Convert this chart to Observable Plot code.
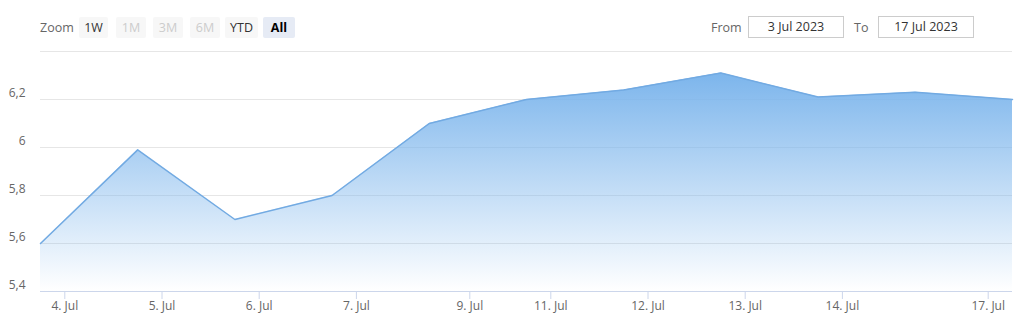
<!DOCTYPE html>
<html>
<head>
<meta charset="utf-8">
<script src="https://cdn.jsdelivr.net/npm/d3@7"></script>
<script src="https://cdn.jsdelivr.net/npm/@observablehq/plot@0.6"></script>
<style>
  html, body { margin: 0; padding: 0; background: #fff; }
  #wrap { width: 1026px; font-family: "Open Sans", "Noto Sans", sans-serif; }
  #header { position: relative; height: 50px; }
  .lbl { position: absolute; top: 18px; font-size: 12.5px; color: #666; line-height: 20px; }
  .btn { position: absolute; top: 17px; height: 21px; line-height: 21px; text-align: center;
         font-size: 12.5px; color: #333; background: #f7f7f7; border-radius: 2px; }
  .btn.dis { color: #ccc; }
  .btn.sel { background: #e6ebf5; font-weight: bold; color: #000; }
  .box { position: absolute; top: 16px; height: 20px; line-height: 20px; text-align: center;
         font-size: 12.5px; color: #333; border: 1px solid #ccc; background: #fff; }
</style>
</head>
<body>
<div id="wrap">
  <div id="header"></div>
  <div id="chart"></div>
</div>
<script>
// ---- data ----
const dates = ["2023-07-03","2023-07-04","2023-07-05","2023-07-06","2023-07-07",
               "2023-07-10","2023-07-11","2023-07-12","2023-07-13","2023-07-14","2023-07-17"];
const values = [5.6, 5.99, 5.7, 5.8, 6.1, 6.2, 6.24, 6.31, 6.21, 6.23, 6.2];
const tickDates = ["2023-07-04","2023-07-05","2023-07-06","2023-07-07","2023-07-09",
                   "2023-07-11","2023-07-12","2023-07-13","2023-07-14","2023-07-17"];
const tickLabels = ["4. Jul","5. Jul","6. Jul","7. Jul","9. Jul",
                    "11. Jul","12. Jul","13. Jul","14. Jul","17. Jul"];
const yTicks = [5.4, 5.6, 5.8, 6, 6.2];
const yGrid = [5.6, 5.8, 6, 6.2, 6.4];
const zoomButtons = ["1W","1M","3M","6M","YTD","All"];
const disabledButtons = ["1M","3M","6M"];
const selectedButton = "All";
const fromDate = "3 Jul 2023";
const toDate = "17 Jul 2023";

// ---- header (range selector) ----
const header = document.getElementById("header");
function add(cls, text, left, width) {
  const d = document.createElement("div");
  d.className = cls; d.textContent = text; d.style.left = left + "px";
  if (width) d.style.width = width + "px";
  header.appendChild(d); return d;
}
add("lbl", "Zoom", 40);
const btnPos = [[79,29],[116,30],[153,30],[190,30],[225,33],[263,32]];
zoomButtons.forEach((b, i) => {
  let cls = "btn";
  if (disabledButtons.includes(b)) cls += " dis";
  if (b === selectedButton) cls += " sel";
  add(cls, b, btnPos[i][0], btnPos[i][1]);
});
add("lbl", "From", 711);
add("box", fromDate, 748, 94);
add("lbl", "To", 854);
add("box", toDate, 878, 94);

// ---- ordinal x positions ----
const dataTime = dates.map(d => Date.parse(d + "T18:00:00Z"));
const data = values.map((v, i) => ({i, v}));
function ordinalIndex(t) {
  for (let k = 0; k < dataTime.length - 1; k++) {
    if (t >= dataTime[k] && t <= dataTime[k + 1])
      return k + (t - dataTime[k]) / (dataTime[k + 1] - dataTime[k]);
  }
  return dataTime.length - 1;
}
const tickPos = tickDates.map(d => ordinalIndex(Date.parse(d + "T00:00:00Z")));
const tickMap = new Map(tickPos.map((p, k) => [p, tickLabels[k]]));
const fmtY = d => (Math.round(d * 10) / 10).toString().replace(".", ",");

const chart = Plot.plot({
  width: 1026,
  height: 270,
  marginTop: 1,
  marginBottom: 29,
  marginLeft: 40,
  marginRight: 14,
  style: {fontFamily: "'Open Sans', 'Noto Sans', sans-serif", fontSize: "12px", background: "#fff"},
  x: {type: "linear", domain: [0, values.length - 1]},
  y: {domain: [5.4, 6.4]},
  marks: [
    Plot.ruleY(yGrid, {stroke: "#e6e6e6", strokeWidth: 1}),
    Plot.areaY(data, {x: "i", y1: 5.4, y2: "v", fill: "url(#areaGrad)"}),
    Plot.lineY(data, {x: "i", y: "v", stroke: "#72aae2", strokeWidth: 1.5}),
    Plot.ruleY([5.4], {stroke: "#ccd6eb", strokeWidth: 1}),
    Plot.axisX({ticks: tickPos, tickFormat: d => tickMap.get(d), tickSize: 8, tickPadding: 2,
                stroke: "#ccd6eb", fill: "#666", fontSize: 12, label: null}),
    Plot.axisY({ticks: yTicks, tickFormat: fmtY, tickSize: 0, tickPadding: 15, dy: -6,
                fill: "#666", fontSize: 12, label: null})
  ]
});

const ns = "http://www.w3.org/2000/svg";
const defs = document.createElementNS(ns, "defs");
const grad = document.createElementNS(ns, "linearGradient");
grad.setAttribute("id", "areaGrad");
grad.setAttribute("x1", "0"); grad.setAttribute("y1", "0");
grad.setAttribute("x2", "0"); grad.setAttribute("y2", "1");
[["0", 1], ["1", 0]].forEach(([o, op]) => {
  const s = document.createElementNS(ns, "stop");
  s.setAttribute("offset", o);
  s.setAttribute("stop-color", "#7cb5ec");
  s.setAttribute("stop-opacity", op);
  grad.appendChild(s);
});
defs.appendChild(grad);
chart.insertBefore(defs, chart.firstChild);
document.getElementById("chart").appendChild(chart);
</script>
</body>
</html>
